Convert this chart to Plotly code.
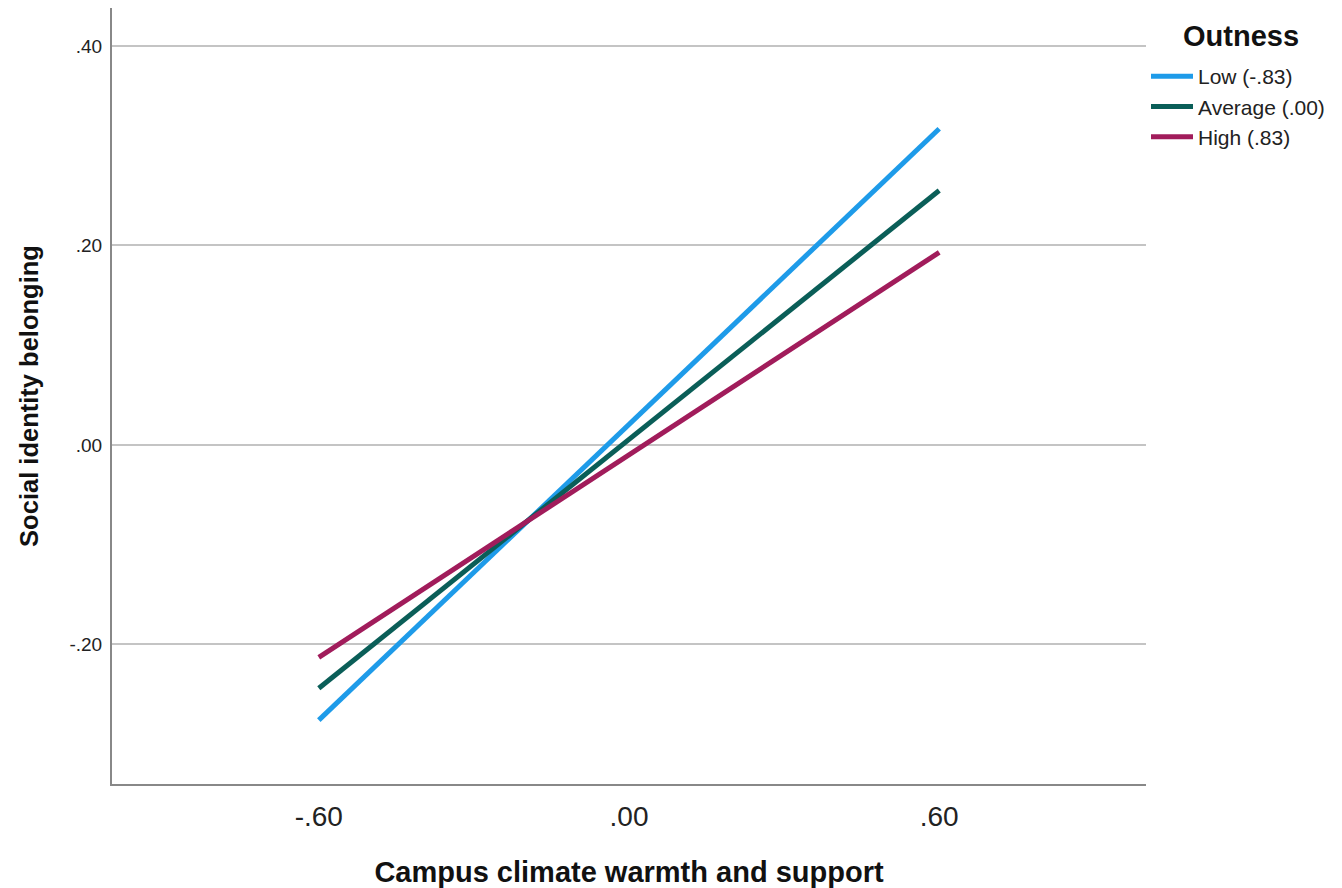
import plotly.graph_objects as go

x_vals = [-0.60, 0.60]
low_vals = [-0.276, 0.317]
avg_vals = [-0.244, 0.255]
high_vals = [-0.213, 0.193]

series_names = ["Low (-.83)", "Average (.00)", "High (.83)"]
series_colors = ["#1e9be9", "#0a5e58", "#a11c5b"]
legend_title = "Outness"

x_tickvals = [-0.60, 0.0, 0.60]
x_ticktext = ["-.60", ".00", ".60"]
y_tickvals = [-0.20, 0.0, 0.20, 0.40]
y_ticktext = ["-.20", ".00", ".20", ".40"]

fig = go.Figure()
for name, ys, col in zip(series_names, [low_vals, avg_vals, high_vals], series_colors):
    fig.add_trace(go.Scatter(x=x_vals, y=ys, mode="lines", name=name,
                             line=dict(color=col, width=5)))

fig.add_annotation(
    text="<b>" + legend_title + "</b>", xref="paper", yref="paper",
    x=1.0 + (1241 - 1146) / 1034, y=(784 - 36) / 776, xanchor="center", yanchor="middle",
    showarrow=False, font=dict(size=29, color="#111"),
)

fig.update_layout(
    width=1334, height=880,
    paper_bgcolor="white", plot_bgcolor="white",
    margin=dict(l=104, r=196, t=0, b=104),
    font=dict(family="Liberation Sans, Arial, sans-serif", color="#222"),
    legend=dict(
        x=1.0, xanchor="left", y=(784 - 56) / 776, yanchor="top",
        font=dict(size=21, color="#222"),
        itemwidth=42, tracegroupgap=0,
        bgcolor="rgba(0,0,0,0)",
    ),
    showlegend=True,
)
fig.update_xaxes(
    range=[-1.0, 1.0], tickvals=x_tickvals, ticktext=x_ticktext,
    tickfont=dict(size=28, color="#222"), showgrid=False, zeroline=False,
    showline=True, linecolor="#888", linewidth=2, ticks="", ticklen=0, ticklabelstandoff=6,
    title=dict(text="<b>Campus climate warmth and support</b>", font=dict(size=29, color="#111"), standoff=31),
)
fig.update_yaxes(
    range=[-0.340, 0.438], tickvals=y_tickvals, ticktext=y_ticktext,
    tickfont=dict(size=19, color="#222"), showgrid=True, gridcolor="#c4c4c4", gridwidth=2,
    zeroline=False, showline=True, linecolor="#888", linewidth=2, ticks="", ticklen=0, ticklabelstandoff=4,
    title=dict(text="<b>Social identity belonging</b>", font=dict(size=25.5, color="#111"), standoff=24),
)
fig.write_html("out.html")
